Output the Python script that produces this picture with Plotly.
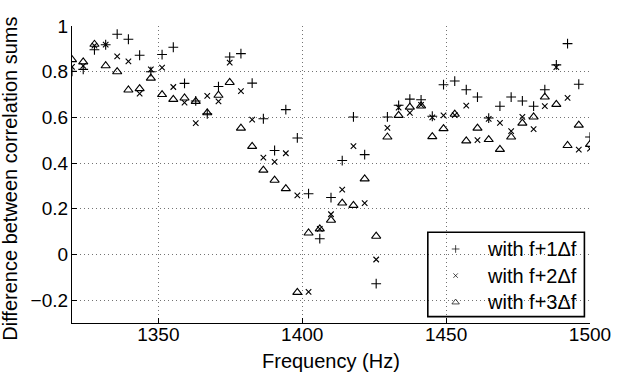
import plotly.graph_objects as go

freq = [1320.0, 1323.9, 1327.8, 1331.7, 1335.7, 1339.6, 1343.5, 1347.4, 1351.3, 1355.2,
        1359.1, 1363.0, 1367.0, 1370.9, 1374.8, 1378.7, 1382.6, 1386.5, 1390.4, 1394.3,
        1398.3, 1402.2, 1406.1, 1410.0, 1413.9, 1417.8, 1421.7, 1425.7, 1429.6, 1433.5,
        1437.4, 1441.3, 1445.2, 1449.1, 1453.0, 1457.0, 1460.9, 1464.8, 1468.7, 1472.6,
        1476.5, 1480.4, 1484.3, 1488.3, 1492.2, 1496.1, 1500.0]

with_1df = [0.802, 0.810, 0.896, 0.918, 0.964, 0.942, 0.872, 0.800, 0.875, 0.907,
            0.749, 0.672, 0.616, 0.735, 0.864, 0.879, 0.750, 0.594, 0.455, 0.634,
            0.510, 0.266, 0.069, 0.249, 0.411, 0.602, 0.437, -0.128, 0.602, 0.653,
            0.680, 0.677, 0.605, 0.743, 0.759, 0.721, 0.689, 0.597, 0.649, 0.689,
            0.672, 0.649, 0.721, 0.830, 0.923, 0.745, 0.514]

with_2df = [0.821, 0.825, 0.914, 0.918, 0.867, 0.845, 0.704, 0.810, 0.818, 0.733,
            0.665, 0.575, 0.694, 0.670, 0.840, 0.715, 0.590, 0.424, 0.405, 0.443,
            0.259, -0.164, 0.112, 0.176, 0.284, 0.474, 0.225, -0.022, 0.554, 0.643,
            0.620, 0.655, 0.600, 0.609, 0.610, 0.651, 0.500, 0.593, 0.576, 0.540,
            0.602, 0.549, 0.649, 0.820, 0.685, 0.459, 0.463]

with_3df = [0.853, 0.843, 0.920, 0.826, 0.800, 0.720, 0.726, 0.772, 0.700, 0.679,
            0.685, 0.670, 0.620, 0.697, 0.753, 0.553, 0.473, 0.369, 0.325, 0.288,
            -0.166, 0.094, 0.112, 0.150, 0.225, 0.215, 0.331, 0.080, 0.514, 0.609,
            0.645, 0.650, 0.516, 0.551, 0.614, 0.497, 0.553, 0.503, 0.460, 0.514,
            0.575, 0.602, 0.689, 0.657, 0.477, 0.566, 0.482]

series_names = ["with f+1\u0394f", "with f+2\u0394f", "with f+3\u0394f"]

x_tickvals = [1350, 1400, 1450, 1500]
x_ticktext = ["1350", "1400", "1450", "1500"]
y_tickvals = [-0.2, 0, 0.2, 0.4, 0.6, 0.8, 1]
y_ticktext = ["\u22120.2", "0", "0.2", "0.4", "0.6", "0.8", "1"]

x_title = "Frequency (Hz)"
y_title = "Difference between correlation sums"

FONT = "Liberation Sans, Arial, Helvetica, sans-serif"
symbols = ["cross-thin-open", "x-thin-open", "triangle-up-open"]
plot_sizes = [7, 5.5, 8]

# legend box layout (fractions of the plot area)
LEG_X0, LEG_X1, LEG_Y0, LEG_Y1 = 0.6869, 0.9892, 0.0215, 0.3054
LEG_ROWS = [0.2492, 0.1596, 0.0697]
LEG_MARK_X = 0.7406
LEG_TEXT_X = 0.7964
leg_sizes = [5.5, 4.5, 6.5]

fig = go.Figure()
for vals, name, sym, sz in zip([with_1df, with_2df, with_3df], series_names, symbols, plot_sizes):
    fig.add_trace(go.Scatter(x=freq, y=vals, mode="markers", name=name, showlegend=False,
                             marker=dict(symbol=sym, size=sz, color="black",
                                         line=dict(width=1.1, color="black"))))

# legend markers on an invisible overlay axis spanning the plot area (0..1)
fig.add_trace(go.Scatter(x=[LEG_MARK_X] * 3, y=LEG_ROWS, mode="markers", showlegend=False,
                         xaxis="x2", yaxis="y2", hoverinfo="skip",
                         marker=dict(symbol=symbols, size=leg_sizes, color="black",
                                     line=dict(width=1, color="black"))))

annotations = [
    dict(text=x_title, xref="paper", yref="paper", x=0.5, y=-0.128,
         xanchor="center", yanchor="middle", showarrow=False,
         font=dict(family=FONT, size=20)),
    dict(text=y_title, xref="paper", yref="paper", x=-0.119, y=0.487,
         xanchor="center", yanchor="middle", showarrow=False, textangle=-90,
         font=dict(family=FONT, size=20)),
]
for name, yy in zip(series_names, LEG_ROWS):
    annotations.append(dict(text=name, xref="paper", yref="paper", x=LEG_TEXT_X, y=yy,
                            xanchor="left", yanchor="middle", showarrow=False,
                            font=dict(family=FONT, size=20)))

fig.update_layout(
    width=623, height=373,
    margin=dict(l=72, r=24, t=26, b=50),
    paper_bgcolor="white", plot_bgcolor="white",
    font=dict(family=FONT, size=19, color="black"),
    showlegend=False,
    annotations=annotations,
    shapes=[dict(type="rect", xref="paper", yref="paper",
                 x0=LEG_X0, x1=LEG_X1, y0=LEG_Y0, y1=LEG_Y1,
                 fillcolor="white", line=dict(color="black", width=1.6),
                 layer="between")],
    xaxis=dict(
        range=[1320, 1500], tickvals=x_tickvals, ticktext=x_ticktext,
        showline=True, linecolor="black", linewidth=1.2, mirror=False,
        ticks="inside", ticklen=5, tickcolor="black", tickwidth=1,
        showgrid=True, gridcolor="rgba(0,0,0,0.55)", gridwidth=1, griddash="1px,3px",
        zeroline=False, ticklabelstandoff=-6,
        tickfont=dict(family=FONT, size=19),
    ),
    yaxis=dict(
        range=[-0.3, 1], tickvals=y_tickvals, ticktext=y_ticktext,
        showline=True, linecolor="black", linewidth=1.2, mirror=False,
        ticks="inside", ticklen=5, tickcolor="black", tickwidth=1,
        showgrid=True, gridcolor="rgba(0,0,0,0.55)", gridwidth=1, griddash="1px,3px",
        zeroline=False, ticklabelstandoff=-1,
        tickfont=dict(family=FONT, size=19),
    ),
    xaxis2=dict(overlaying="x", range=[0, 1], visible=False, fixedrange=True),
    yaxis2=dict(overlaying="y", range=[0, 1], visible=False, fixedrange=True),
)

# remove the default page margin / scrollbars so the figure fills the window exactly
fig.write_html(
    "out.html",
    config={"displayModeBar": False},
    post_script="document.body.style.margin='0';document.body.style.overflow='hidden';"
                "document.documentElement.style.overflow='hidden';",
)
